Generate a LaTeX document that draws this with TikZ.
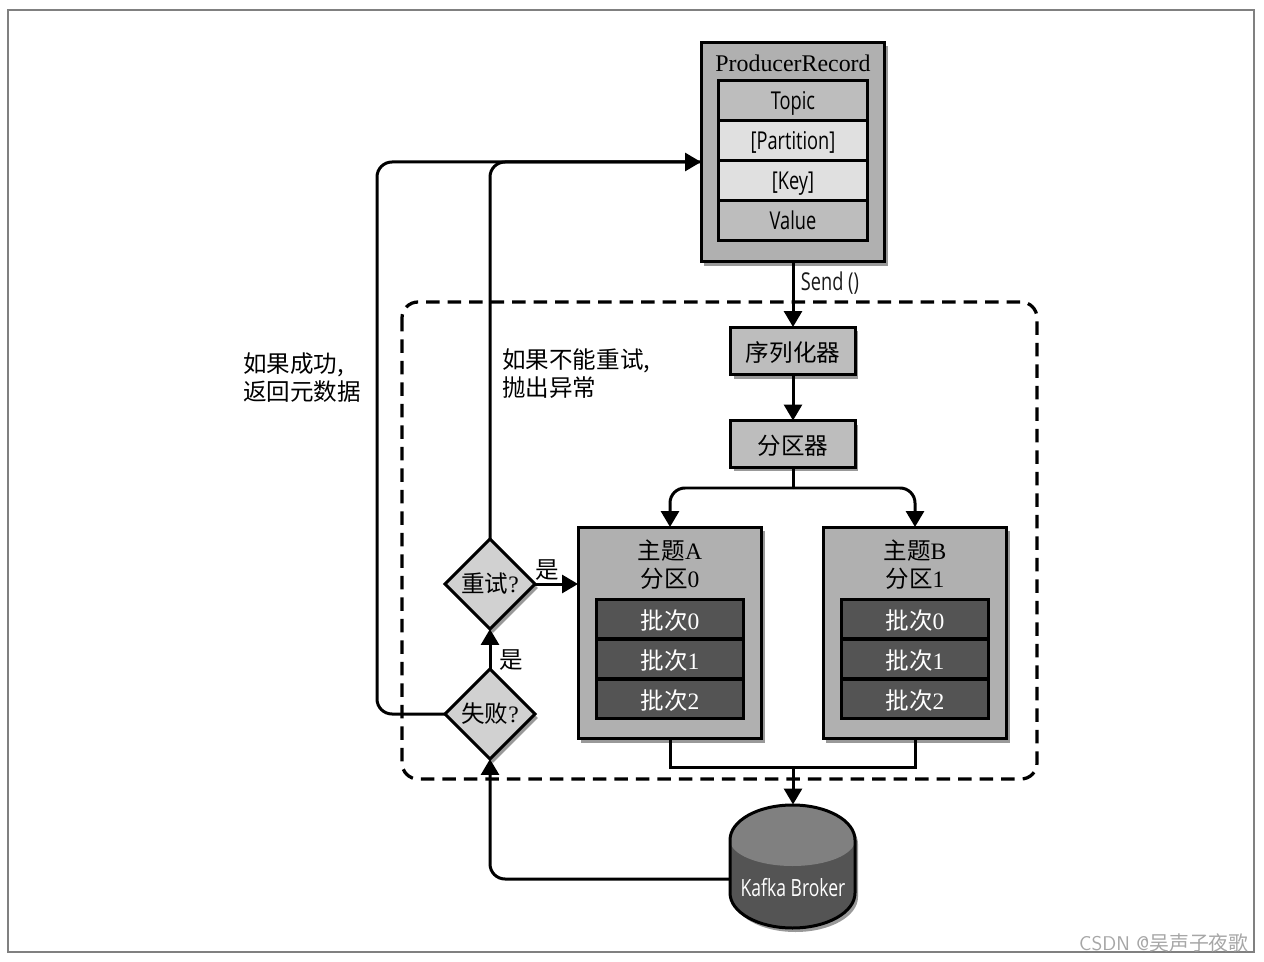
\documentclass[tikz,border=0pt]{standalone}
\usepackage{fontspec}
\usepackage{tikz}
\usetikzlibrary{arrows.meta,shapes.geometric,shadows}
\setmainfont{Liberation Serif}
\newfontfamily\cjk{Noto Sans CJK SC}
\newfontfamily\condfont[FakeStretch=0.74]{Open Sans}
\newcommand{\zh}[1]{{\cjk #1}}
\tikzset{
  lbl/.style={font=\fontsize{13.4}{16}\selectfont,inner sep=0,align=left},
  cond/.style={font=\fontsize{14}{16}\condfont,inner sep=0,text=black!90},
  boxbase/.style={draw=black,line width=0.06cm,outer sep=0,inner sep=0,font=\fontsize{13.4}{16}\selectfont,align=center},
  zhtext/.style={text height=0.45cm,text depth=0.016cm},
  shad/.style={drop shadow={shadow xshift=0.06cm,shadow yshift=-0.08cm,fill=black,opacity=0.4}},
  row/.style={boxbase,minimum width=2.98cm,minimum height=0.8cm,font=\fontsize{14}{16}\condfont,text height=0.38cm,text depth=0.02cm},
  batchrow/.style={boxbase,zhtext,fill=batchgray,text=white,minimum width=2.96cm,minimum height=0.79cm},
  choice/.style={boxbase,shad,diamond,aspect=1,fill=lightgray,minimum width=1.8cm,minimum height=1.8cm},
  conn/.style={line width=0.06cm,-{Triangle[length=0.32cm,width=0.36cm]}},
  plain/.style={line width=0.06cm}
}
\definecolor{midgray}{gray}{0.69}
\definecolor{rowgray}{gray}{0.74}
\definecolor{palegray}{gray}{0.88}
\definecolor{lightgray}{gray}{0.82}
\definecolor{batchgray}{gray}{0.33}
\definecolor{capgray}{gray}{0.5}
\begin{document}
\begin{tikzpicture}[x=0.02cm,y=-0.02cm]
\useasboundingbox (0,0) rectangle (1264,962);
\draw[gray,line width=0.025cm] (8,10) rectangle (1254,952);
\draw[line width=0.065cm,dash pattern=on 0.27cm off 0.16cm,rounded corners=0.32cm] (402,302) rectangle (1037,779);
\node[boxbase,shad,fill=midgray,minimum width=3.68cm,minimum height=4.4cm] (record) at (793,152) {};
\node[lbl,font=\fontsize{13.6}{16}\selectfont] (recordtitle) at (793,63) {ProducerRecord};
\node[row,fill=rowgray] (topic) at (793,101) {Topic};
\node[row,fill=palegray] (partition) at (793,141) {[Partition]};
\node[row,fill=palegray] (key) at (793,181) {[Key]};
\node[row,fill=rowgray] (value) at (793,221) {Value};
\node[boxbase,zhtext,shad,fill=rowgray,minimum width=2.5cm,minimum height=0.96cm] (serializer) at (793,351) {\zh{序列化器}};
\node[boxbase,zhtext,shad,fill=rowgray,minimum width=2.5cm,minimum height=0.94cm] (partitioner) at (793,444) {\zh{分区器}};
\foreach \name/\tx/\ty/\part in {A/670/A/0,B/915/B/1} {
  \node[boxbase,shad,fill=midgray,minimum width=3.68cm,minimum height=4.24cm] (topic\name) at (\tx,633) {};
  \node[lbl,align=center] (title\name) at (\tx,565) {\zh{主题}\ty\\\zh{分区}\part};
  \foreach \i/\y in {0/619,1/659,2/699}
    \node[batchrow] (batch\name\i) at (\tx,\y) {\zh{批次}\i};
}
\node[choice] (retry) at (490,584) {\zh{重试}?};
\node[choice] (fail) at (490,714) {\zh{失败}?};
\node[minimum width=2.5cm,minimum height=2.46cm,outer sep=0,inner sep=0] (broker) at (793,866) {};
\fill[black,opacity=0.4] (733,844) arc[start angle=180,end angle=360,x radius=62.5,y radius=35] -- (858,897) arc[start angle=0,end angle=180,x radius=62.5,y radius=35] -- cycle;
\fill[batchgray] (730,840) arc[start angle=180,end angle=360,x radius=62.5,y radius=35] -- (855,893) arc[start angle=0,end angle=180,x radius=62.5,y radius=35] -- cycle;
\fill[capgray] (730,840) arc[start angle=180,end angle=360,x radius=62.5,y radius=35] arc[start angle=0,end angle=180,x radius=62.5,y radius=26] -- cycle;
\draw[line width=0.06cm] (730,840) arc[start angle=180,end angle=360,x radius=62.5,y radius=35] -- (855,893) arc[start angle=0,end angle=180,x radius=62.5,y radius=35] -- cycle;
\node[cond,font=\fontsize{13.5}{16}\condfont,text=white] (brokername) at (793,888) {Kafka Broker};
\node[cond] (send) at (830,283) {Send ()};
\node[lbl,anchor=west] (okmeta) at (243,378) {\zh{如果成功,}\\\zh{返回元数据}};
\node[lbl,anchor=west] (throwerr) at (502,374) {\zh{如果不能重试,}\\\zh{抛出异常}};
\node[lbl] (yesa) at (547,570) {\zh{是}};
\node[lbl] (yesb) at (511,660) {\zh{是}};
\node[lbl,text=gray!70,font=\fontsize{11.3}{12}\selectfont,anchor=east] (mark) at (1249,943) {\sffamily CSDN @\zh{吴声子夜歌}};
\coordinate (entry) at (record.west |- 0,162);
\coordinate (join) at (793,767);
\coordinate (fork) at (793,488);
\coordinate (brokerout) at (730,879);
\draw[conn] (record) -- (serializer);
\draw[conn] (serializer) -- (partitioner);
\draw[plain] (partitioner) -- (fork);
\draw[conn,rounded corners=0.3cm] (fork) -| (topicA.north);
\draw[conn,rounded corners=0.3cm] (fork) -| (topicB.north);
\draw[conn] (retry.east) -- (retry.east -| topicA.west);
\draw[conn] (fail.north) -- (retry.south);
\draw[plain] (topicA.south) |- (join) -| (topicB.south);
\draw[conn] (join) -- (broker.north);
\draw[conn,rounded corners=0.3cm] (brokerout) -| (fail.south);
\draw[conn,rounded corners=0.3cm] (fail.west) -| (377,162) -- (entry);
\draw[plain,rounded corners=0.3cm] (retry.north) |- (entry);
\end{tikzpicture}
\end{document}
